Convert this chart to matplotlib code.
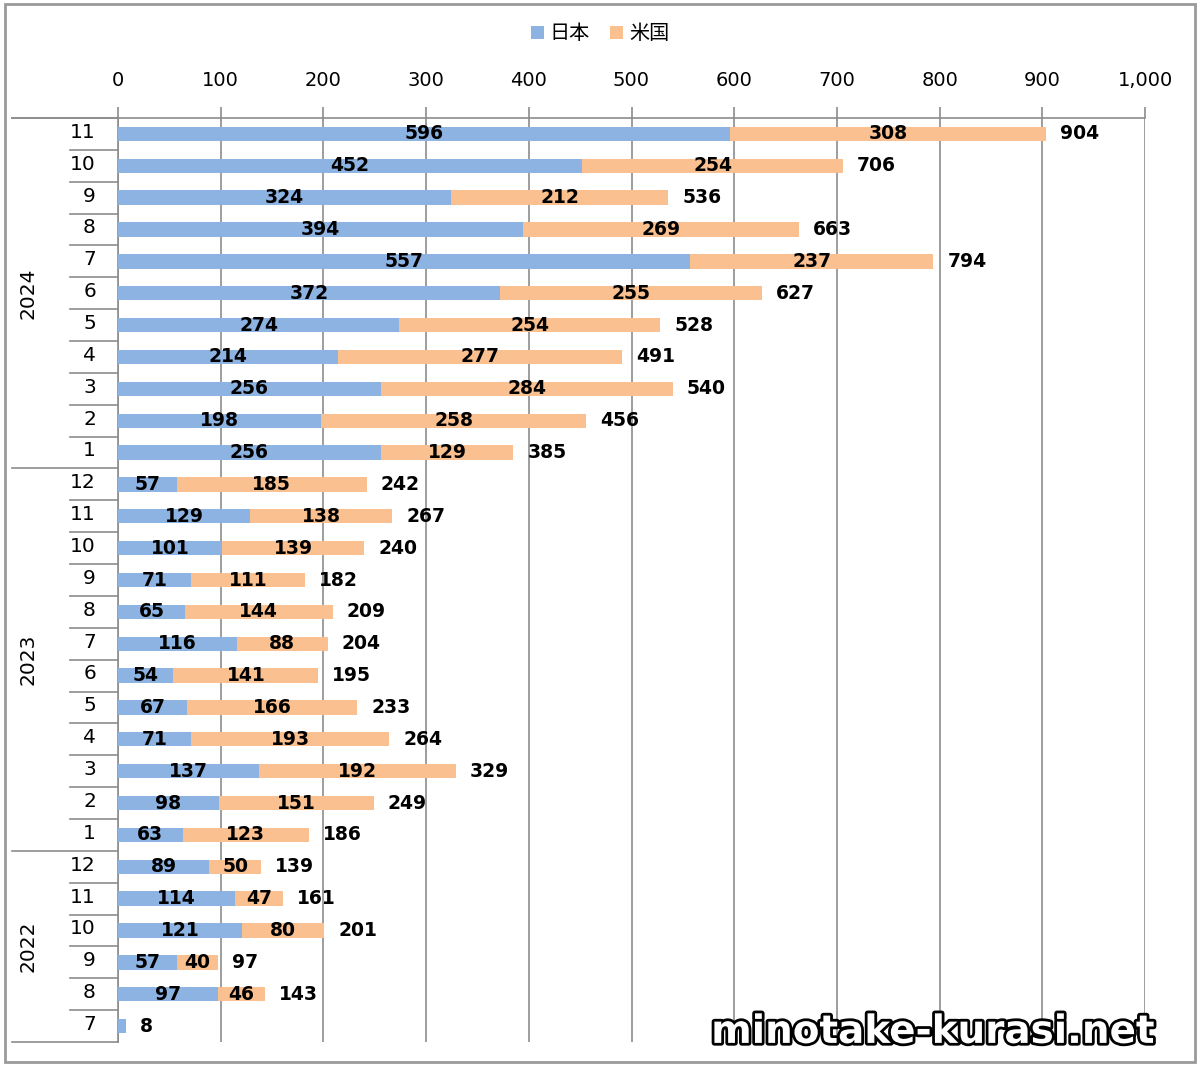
import matplotlib.pyplot as plt
import matplotlib.patheffects as pe
from matplotlib.patches import Rectangle
from matplotlib.ticker import FuncFormatter

plt.rcParams['font.family'] = ['DejaVu Sans', 'Noto Sans CJK JP']

# rows from top to bottom
years = ["2024", "2023", "2022"]
year_months = [
    [11, 10, 9, 8, 7, 6, 5, 4, 3, 2, 1],
    [12, 11, 10, 9, 8, 7, 6, 5, 4, 3, 2, 1],
    [12, 11, 10, 9, 8, 7],
]
japan = [596, 452, 324, 394, 557, 372, 274, 214, 256, 198, 256,
         57, 129, 101, 71, 65, 116, 54, 67, 71, 137, 98, 63,
         89, 114, 121, 57, 97, 8]
usa = [308, 254, 212, 269, 237, 255, 254, 277, 284, 258, 129,
       185, 138, 139, 111, 144, 88, 141, 166, 193, 192, 151, 123,
       50, 47, 80, 40, 46, 0]

c_jp = "#8DB3E2"
c_us = "#FAC090"
grid_c = "#8C8C8C"

months = [m for ms in year_months for m in ms]
n = len(months)
pos = list(range(n))
totals = [a + b for a, b in zip(japan, usa)]

fig = plt.figure(figsize=(12, 10.66), dpi=100)
ax = fig.add_axes([118 / 1200, 1 - 1042 / 1066, 1027 / 1200, 924 / 1066])

b1 = ax.barh(pos, japan, height=0.45, color=c_jp, label="日本", zorder=3)
b2 = ax.barh(pos, usa, left=japan, height=0.45, color=c_us, label="米国", zorder=3)

lbl = dict(fontsize=13.5, fontweight="bold", va="center", zorder=5)
for i in pos:
    if usa[i] > 0:
        ax.text(japan[i] / 2, i, str(japan[i]), ha="center", **lbl)
        ax.text(japan[i] + usa[i] / 2, i, str(usa[i]), ha="center", **lbl)
    ax.annotate(str(totals[i]), (totals[i], i), xytext=(10, 0),
                textcoords="offset points", ha="left", **lbl)

ax.set_xlim(0, 1000)
ax.set_ylim(n - 0.5, -0.5)
ax.set_xticks(range(0, 1001, 100))
ax.xaxis.set_major_formatter(FuncFormatter(lambda v, p: f"{int(v):,}"))
ax.xaxis.tick_top()
ax.tick_params(axis="x", direction="out", length=8, color=grid_c, width=1.2,
               labelsize=14, pad=12)
ax.set_yticks([])
ax.grid(axis="x", color=grid_c, linewidth=1.2, zorder=0)
for s in ["right", "bottom", "top"]:
    ax.spines[s].set_visible(False)
ax.spines["left"].set_color(grid_c)
ax.spines["left"].set_linewidth(1.2)

# category axis structure on the left
trans = ax.get_yaxis_transform()
x_month = (70 - 118) / 1027
x_year = (12 - 118) / 1027
boundaries = [-0.5]
k = 0
for ms in year_months:
    k += len(ms)
    boundaries.append(k - 0.5)
for y in [i - 0.5 for i in range(n + 1)]:
    x0 = x_year if y in boundaries else x_month
    ax.plot([x0, 0], [y, y], color=grid_c, lw=1.2, transform=trans, clip_on=False)
ax.plot([x_year, 1], [-0.5, -0.5], color=grid_c, lw=1.2, transform=trans, clip_on=False)

for i, m in enumerate(months):
    ax.text((96 - 118) / 1027, i - 0.05, str(m), transform=trans, ha="right",
            va="center", fontsize=14.5)
start = 0
for yr, ms in zip(years, year_months):
    mid = start + (len(ms) - 1) / 2
    ax.text((28 - 118) / 1027, mid, yr, transform=trans, ha="center",
            va="center", rotation=90, fontsize=14.5)
    start += len(ms)

fig.legend(handles=[b1, b2], loc="upper center", bbox_to_anchor=(0.5, 0.995),
           ncol=2, frameon=False, handlelength=0.65,
           handleheight=0.65, handletextpad=0.3, columnspacing=1.0,
           prop={"family": ["Noto Sans CJK JP"], "size": 14.5})

fig.text(0.777, 0.032, "minotake-kurasi.net", ha="center", va="center",
         fontsize=28, fontweight="bold", color="white",
         path_effects=[pe.withStroke(linewidth=4, foreground="black")])

fig.patches.append(Rectangle((5 / 1200, 4 / 1066), 1190 / 1200, 1058 / 1066,
                             transform=fig.transFigure, fill=False,
                             edgecolor="#9A9A9A", linewidth=2))

fig.savefig("out.png", dpi=100)
